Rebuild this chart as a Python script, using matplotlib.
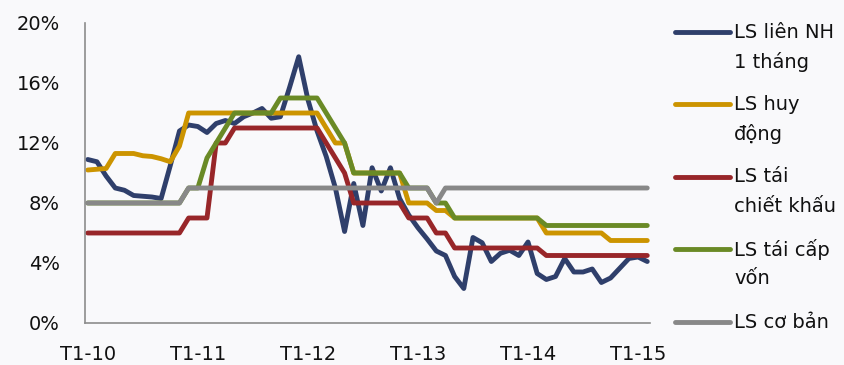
import numpy as np
import matplotlib.pyplot as plt
from matplotlib.lines import Line2D

# Monthly rates (%), Jan 2010 -> Feb 2015
interbank_1m = [10.9, 10.75, 9.8, 9.0, 8.85, 8.5, 8.45, 8.4, 8.3, 10.5,
                12.8, 13.2, 13.1, 12.7, 13.3, 13.5, 13.3, 13.75, 14.0, 14.3,
                13.65, 13.75, 15.7, 17.75, 14.9, 12.8, 11.1, 9.0, 6.1, 9.3,
                6.5, 10.35, 8.8, 10.35, 8.3, 7.2, 6.35, 5.6, 4.8, 4.5,
                3.1, 2.3, 5.7, 5.35, 4.1, 4.65, 4.85, 4.5, 5.4, 3.3,
                2.9, 3.1, 4.3, 3.4, 3.4, 3.6, 2.7, 3.0, 3.65, 4.3,
                4.4, 4.1]
deposit = [10.2, 10.25, 10.3, 11.3, 11.3, 11.3, 11.15, 11.1, 10.95, 10.75,
           11.8] + [14] * 15 + [13, 12, 12] + [10] * 6 + [8, 8, 8, 7.5, 7.5] \
          + [7] * 10 + [6] * 7 + [5.5] * 5
discount = [6] * 11 + [7] * 3 + [12, 12] + [13] * 10 + [12, 11, 10] \
           + [8] * 6 + [7] * 3 + [6] * 2 + [5] * 10 + [4.5] * 12
refinance = [8] * 11 + [9, 9, 11, 12, 13] + [14] * 5 + [15] * 5 + [14, 13, 12] \
            + [10] * 6 + [9] * 3 + [8] * 2 + [7] * 10 + [6.5] * 12
base_rate = [8] * 11 + [9] * 27 + [8] + [9] * 23

tick_pos = [0, 12, 24, 36, 48, 60]
tick_labels = ['T1-10', 'T1-11', 'T1-12', 'T1-13', 'T1-14', 'T1-15']
y_ticks = [0, 4, 8, 12, 16, 20]

series = [
    (interbank_1m, '#2F3F6B', 'LS liên NH\n1 tháng'),
    (deposit, '#CC9400', 'LS huy\nđộng'),
    (discount, '#982629', 'LS tái\nchiết khấu'),
    (refinance, '#6A8A26', 'LS tái cấp\nvốn'),
    (base_rate, '#888888', 'LS cơ bản'),
]

W, H = 845, 365
bg = '#F9F9FB'
fig = plt.figure(figsize=(W / 100, H / 100), dpi=100, facecolor=bg)
ax = fig.add_axes([85 / W, 1 - 323 / H, 565 / W, 300 / H], facecolor=bg)

x = np.arange(len(interbank_1m))
for vals, color, _ in series:
    ax.plot(x, vals, color=color, lw=3.5, solid_joinstyle='round',
            solid_capstyle='round')

ax.set_xlim(-0.3, len(x) - 1 + 0.3)
ax.set_ylim(0, 20)
ax.set_yticks(y_ticks)
ax.set_yticklabels([f'{v}%' for v in y_ticks])
ax.set_xticks(tick_pos)
ax.set_xticklabels(tick_labels)
ax.tick_params(length=0, labelsize=14, colors='#111111')
ax.tick_params(axis='y', pad=18)
ax.tick_params(axis='x', pad=16)
for side in ['top', 'right']:
    ax.spines[side].set_visible(False)
for side in ['left', 'bottom']:
    ax.spines[side].set_color('#8C8C8C')
    ax.spines[side].set_linewidth(1.2)

# hand-placed legend on the right
legend_y = [32, 104, 177, 249, 322]
for (vals, color, label), ly in zip(series, legend_y):
    yf = 1 - ly / H
    fig.add_artist(Line2D([675 / W, 730 / W], [yf, yf], color=color, lw=3.5,
                          solid_capstyle='round'))
    for k, line in enumerate(label.split('\n')):
        fig.text(734 / W, 1 - (ly + 29.5 * k) / H, line, va='center',
                 ha='left', fontsize=14, color='#111111')

fig.savefig('out.png', dpi=100, facecolor=bg)
